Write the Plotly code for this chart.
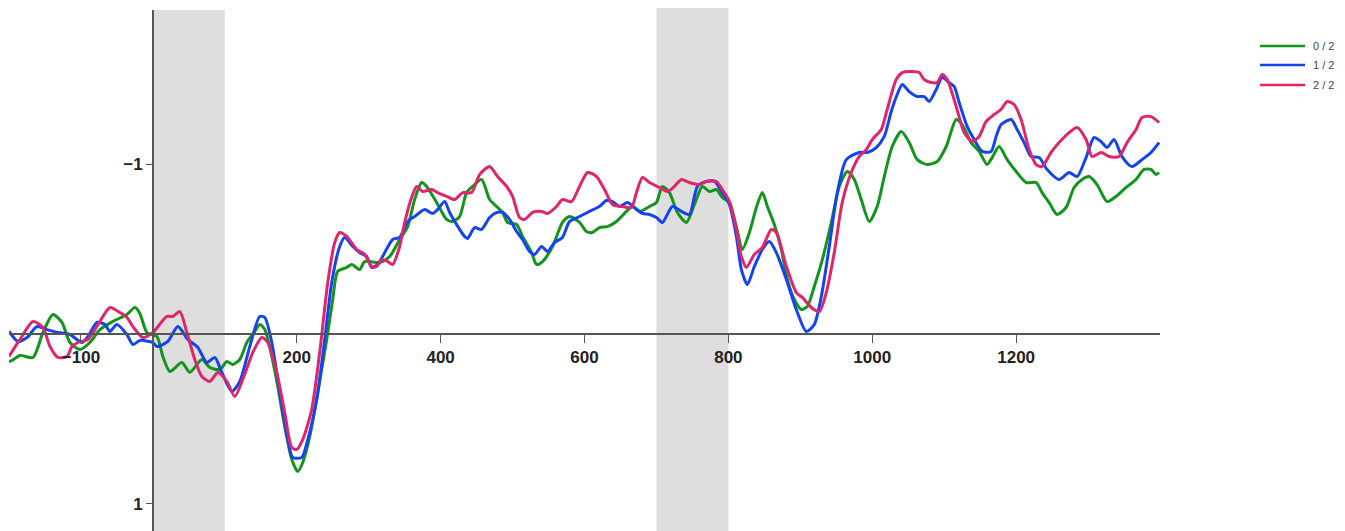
import plotly.graph_objects as go

# ---- data (time in ms, amplitude in µV) ----
t_g = [-200.0, -195.8, -184.7, -166.7, -152.8, -138.9, -126.4, -115.3, -101.4, -87.5, -73.6, -55.6, -36.1, -25.0, -18.1, -8.3,
       5.6, 13.9, 23.6, 40.3, 51.4, 68.1, 79.2, 93.1, 102.8, 111.1, 120.8, 130.6, 141.7, 148.6, 155.6, 165.3, 173.6, 183.3,
       193.1, 201.4, 208.3, 218.1, 229.2, 241.7, 250.0, 256.9, 269.4, 276.4, 287.5, 294.4, 315.3, 329.2, 343.1, 354.2, 363.9,
       373.6, 380.6, 394.4, 408.3, 416.7, 426.4, 436.1, 444.4, 456.9, 468.1, 477.8, 486.1, 493.1, 505.6, 513.9, 526.4, 533.3,
       541.7, 555.6, 569.4, 579.2, 593.1, 602.8, 611.1, 620.8, 631.9, 644.4, 658.3, 666.7, 676.4, 690.3, 700.0, 708.3, 718.1,
       729.2, 741.7, 752.8, 763.9, 773.6, 783.3, 791.7, 801.4, 811.1, 819.4, 829.2, 838.9, 847.2, 854.2, 863.9, 873.6, 881.9,
       891.7, 901.4, 909.7, 919.4, 930.6, 943.1, 954.2, 965.3, 975.0, 984.7, 995.8, 1006.9, 1016.7, 1027.8, 1040.3, 1051.4,
       1062.5, 1076.4, 1090.3, 1102.8, 1116.7, 1125.0, 1137.5, 1148.6, 1159.7, 1166.7, 1176.4, 1187.5, 1200.0, 1213.9, 1227.8,
       1236.1, 1245.8, 1256.9, 1269.4, 1280.6, 1291.7, 1301.4, 1312.5, 1326.4, 1338.9, 1352.8, 1366.7, 1377.8, 1387.5, 1394.4,
       1398.6]
v_g = [0.162, 0.156, 0.126, 0.138, -0.009, -0.115, -0.068, 0.050, 0.091, 0.050, -0.026, -0.074, -0.115, -0.156, -0.121, -0.009,
       0.015, 0.132, 0.221, 0.168, 0.226, 0.150, 0.197, 0.209, 0.162, 0.179, 0.150, 0.050, -0.015, -0.056, -0.026, 0.132, 0.309,
       0.544, 0.738, 0.809, 0.756, 0.603, 0.344, 0.032, -0.203, -0.368, -0.391, -0.409, -0.379, -0.426, -0.421, -0.456, -0.556,
       -0.632, -0.791, -0.891, -0.868, -0.774, -0.674, -0.662, -0.691, -0.832, -0.868, -0.909, -0.791, -0.750, -0.715, -0.656,
       -0.644, -0.574, -0.479, -0.409, -0.426, -0.515, -0.656, -0.691, -0.656, -0.603, -0.597, -0.626, -0.632, -0.662, -0.721,
       -0.750, -0.721, -0.750, -0.774, -0.868, -0.832, -0.715, -0.656, -0.762, -0.868, -0.838, -0.850, -0.803, -0.774, -0.632,
       -0.497, -0.597, -0.744, -0.832, -0.750, -0.644, -0.497, -0.321, -0.203, -0.144, -0.162, -0.279, -0.438, -0.656, -0.868,
       -0.956, -0.909, -0.791, -0.662, -0.750, -0.926, -1.103, -1.191, -1.126, -1.026, -0.997, -1.015, -1.103, -1.262, -1.232,
       -1.126, -1.074, -0.997, -1.038, -1.103, -1.026, -0.956, -0.891, -0.891, -0.832, -0.774, -0.703, -0.744, -0.862, -0.909,
       -0.926, -0.879, -0.779, -0.809, -0.862, -0.909, -0.968, -0.968, -0.938, -0.950]

t_b = [-200.0, -187.5, -175.0, -161.1, -147.2, -131.9, -115.3, -98.6, -90.3, -77.8, -66.7, -59.7, -50.0, -36.1, -27.8, -18.1,
       0.0, 5.6, 20.8, 34.7, 48.6, 62.5, 75.0, 86.1, 95.8, 109.7, 120.8, 134.7, 148.6, 155.6, 165.3, 176.4, 187.5, 194.4, 206.9,
       215.3, 227.8, 238.9, 248.6, 259.7, 266.7, 277.8, 287.5, 297.2, 304.2, 312.5, 319.4, 333.3, 343.1, 354.2, 363.9, 377.8,
       388.9, 395.8, 405.6, 412.5, 422.2, 433.3, 437.5, 447.2, 456.9, 468.1, 477.8, 486.1, 495.8, 505.6, 513.9, 523.6, 530.6,
       540.3, 548.6, 558.3, 569.4, 579.2, 593.1, 606.9, 620.8, 630.6, 638.9, 648.6, 659.7, 669.4, 680.6, 690.3, 700.0, 708.3,
       722.2, 734.7, 745.8, 756.9, 769.4, 780.6, 791.7, 801.4, 811.1, 818.1, 826.4, 836.1, 847.2, 856.9, 866.7, 880.6, 894.4,
       908.3, 919.4, 929.2, 940.3, 951.4, 963.9, 981.9, 993.1, 1005.6, 1016.7, 1026.4, 1034.7, 1041.7, 1051.4, 1062.5, 1072.2,
       1079.2, 1088.9, 1097.2, 1106.9, 1113.9, 1120.8, 1131.9, 1141.7, 1152.8, 1165.3, 1172.2, 1179.2, 1193.1, 1201.4, 1211.1,
       1220.8, 1231.9, 1243.1, 1259.7, 1273.6, 1284.7, 1297.2, 1308.3, 1318.1, 1326.4, 1336.1, 1347.2, 1361.1, 1375.0, 1387.5,
       1398.6]
v_b = [-0.015, 0.044, 0.021, -0.044, -0.026, -0.009, 0.003, 0.050, 0.015, -0.068, -0.056, -0.015, -0.056, 0.003, 0.062, 0.038,
       0.050, 0.074, 0.044, -0.044, 0.032, 0.079, 0.168, 0.138, 0.226, 0.338, 0.279, 0.074, -0.103, -0.097, 0.050, 0.344, 0.621,
       0.726, 0.726, 0.621, 0.385, 0.032, -0.303, -0.515, -0.568, -0.515, -0.479, -0.456, -0.391, -0.409, -0.456, -0.556, -0.568,
       -0.662, -0.691, -0.732, -0.709, -0.732, -0.779, -0.715, -0.644, -0.574, -0.562, -0.626, -0.615, -0.685, -0.715, -0.715,
       -0.674, -0.603, -0.556, -0.485, -0.468, -0.515, -0.485, -0.538, -0.568, -0.662, -0.691, -0.721, -0.750, -0.785, -0.779,
       -0.750, -0.774, -0.744, -0.709, -0.703, -0.685, -0.656, -0.750, -0.721, -0.703, -0.868, -0.897, -0.897, -0.832, -0.762,
       -0.574, -0.379, -0.291, -0.397, -0.497, -0.544, -0.479, -0.321, -0.144, -0.015, -0.056, -0.221, -0.515, -0.832, -1.026,
       -1.068, -1.068, -1.097, -1.162, -1.309, -1.409, -1.468, -1.426, -1.397, -1.397, -1.368, -1.438, -1.509, -1.479, -1.456,
       -1.362, -1.221, -1.144, -1.074, -1.074, -1.162, -1.232, -1.262, -1.203, -1.126, -1.044, -1.038, -0.968, -0.909, -0.950,
       -0.926, -1.038, -1.156, -1.132, -1.097, -1.144, -1.044, -0.985, -1.026, -1.068, -1.126]

t_p = [-200.0, -184.7, -166.7, -152.8, -143.1, -131.9, -119.4, -112.5, -104.2, -90.3, -77.8, -59.7, -45.8, -36.1, -27.8, -13.9,
       0.0, 19.4, 27.8, 37.5, 47.2, 58.3, 68.1, 79.2, 90.3, 102.8, 113.9, 125.0, 138.9, 151.4, 159.7, 172.2, 183.3, 193.1, 200.0,
       208.3, 220.8, 231.9, 243.1, 252.8, 259.7, 269.4, 283.3, 294.4, 304.2, 311.1, 318.1, 326.4, 333.3, 343.1, 350.0, 359.7,
       366.7, 375.0, 387.5, 395.8, 408.3, 419.4, 430.6, 443.1, 454.2, 468.1, 479.2, 491.7, 500.0, 509.7, 516.7, 527.8, 540.3,
       548.6, 561.1, 569.4, 581.9, 593.1, 604.2, 616.7, 627.8, 638.9, 652.8, 665.3, 672.2, 680.6, 690.3, 704.2, 715.3, 725.0,
       734.7, 745.8, 759.7, 769.4, 783.3, 791.7, 801.4, 811.1, 818.1, 825.0, 836.1, 847.2, 859.7, 866.7, 880.6, 894.4, 902.8,
       915.3, 926.4, 936.1, 947.2, 958.3, 970.8, 981.9, 991.7, 1000.0, 1012.5, 1020.8, 1033.3, 1041.7, 1055.6, 1065.3, 1072.2,
       1081.9, 1090.3, 1097.2, 1104.2, 1116.7, 1127.8, 1138.9, 1148.6, 1158.3, 1169.4, 1179.2, 1187.5, 1197.2, 1206.9, 1218.1,
       1227.8, 1236.1, 1248.6, 1259.7, 1273.6, 1284.7, 1297.2, 1305.6, 1318.1, 1329.2, 1343.1, 1354.2, 1366.7, 1375.0, 1387.5,
       1398.6]
v_p = [0.132, 0.032, -0.074, -0.038, 0.074, 0.138, 0.132, 0.074, 0.050, 0.032, -0.044, -0.156, -0.126, -0.097, -0.044, 0.021,
       -0.009, -0.103, -0.103, -0.132, -0.009, 0.150, 0.250, 0.279, 0.226, 0.279, 0.368, 0.268, 0.109, 0.021, 0.050, 0.226, 0.462,
       0.668, 0.679, 0.621, 0.444, 0.109, -0.303, -0.538, -0.597, -0.574, -0.497, -0.468, -0.397, -0.397, -0.438, -0.426, -0.409,
       -0.515, -0.656, -0.803, -0.868, -0.838, -0.850, -0.832, -0.809, -0.791, -0.832, -0.832, -0.938, -0.985, -0.926, -0.868,
       -0.809, -0.685, -0.674, -0.715, -0.721, -0.709, -0.750, -0.791, -0.779, -0.868, -0.950, -0.926, -0.850, -0.762, -0.750,
       -0.744, -0.832, -0.921, -0.891, -0.862, -0.838, -0.868, -0.909, -0.891, -0.879, -0.897, -0.897, -0.850, -0.779, -0.615,
       -0.456, -0.391, -0.468, -0.509, -0.615, -0.597, -0.397, -0.244, -0.215, -0.156, -0.132, -0.244, -0.479, -0.774, -0.950,
       -1.044, -1.085, -1.144, -1.203, -1.321, -1.497, -1.538, -1.544, -1.538, -1.497, -1.479, -1.479, -1.526, -1.497, -1.338,
       -1.185, -1.132, -1.162, -1.250, -1.291, -1.321, -1.368, -1.350, -1.262, -1.085, -0.997, -0.985, -1.068, -1.126, -1.185,
       -1.215, -1.144, -1.044, -1.068, -1.044, -1.044, -1.126, -1.203, -1.274, -1.279, -1.244]

series_names = ["0 / 2", "1 / 2", "2 / 2"]
series_colors = ["#13941a", "#1443f0", "#e0256a"]

x_ticks = [-100, 200, 400, 600, 800, 1000, 1200]
y_ticks = [-1, 1]
x_range = [-200, 1400]
y_range = [1.159, -1.906]  # reversed: negative up
shaded = [(0, 100, 1.0), (700, 800, 1.008)]

fig = go.Figure()
for (tt, vv), name, col in zip([(t_g, v_g), (t_b, v_b), (t_p, v_p)], series_names, series_colors):
    fig.add_trace(go.Scatter(x=tt, y=vv, mode="lines", name=name, showlegend=False,
                             line=dict(color=col, width=3, shape="spline", smoothing=0.7)))

for x0, x1, ytop in shaded:
    fig.add_shape(type="rect", xref="x", yref="paper", x0=x0, x1=x1, y0=0, y1=ytop,
                  fillcolor="#dedede", line=dict(width=0), layer="below")

# legend drawn manually (long sample lines, as in the reference)
leg_x0, leg_x1, leg_tx = 1.0869, 1.1260, 1.1312
leg_y = [0.9309, 0.8944, 0.8560]
for name, col, ly in zip(series_names, series_colors, leg_y):
    fig.add_shape(type="line", xref="paper", yref="paper", x0=leg_x0, x1=leg_x1, y0=ly, y1=ly,
                  line=dict(color=col, width=2.5))
    fig.add_annotation(xref="paper", yref="paper", x=leg_tx, y=ly, text=name, showarrow=False,
                       xanchor="left", yanchor="middle",
                       font=dict(family="Liberation Sans Narrow, Liberation Sans, Arial, sans-serif",
                                 size=11, color="#444444"))

x_pos = (y_range[0] - 0) / (y_range[0] - y_range[1])
y_pos = (0 - x_range[0]) / (x_range[1] - x_range[0])

tickfont = dict(family="Liberation Sans, Arial, sans-serif", size=17, color="#222222", weight="bold")
fig.update_layout(
    width=1345, height=531,
    margin=dict(l=1, r=193, t=2, b=8),
    plot_bgcolor="white", paper_bgcolor="white",
    showlegend=False,
    xaxis=dict(range=x_range, anchor="free", position=x_pos, tickvals=x_ticks,
               showgrid=False, zeroline=False, showline=True, linecolor="#555555", linewidth=1.5,
               ticks="outside", ticklen=8, tickcolor="#555555", tickwidth=1.2, tickfont=tickfont),
    yaxis=dict(range=y_range, anchor="free", position=y_pos, tickvals=y_ticks,
               showgrid=False, zeroline=False, showline=True, linecolor="#555555", linewidth=1.5,
               ticks="outside", ticklen=6, tickcolor="#555555", tickwidth=1.2, tickfont=tickfont),
)

fig.write_html("out.html")
